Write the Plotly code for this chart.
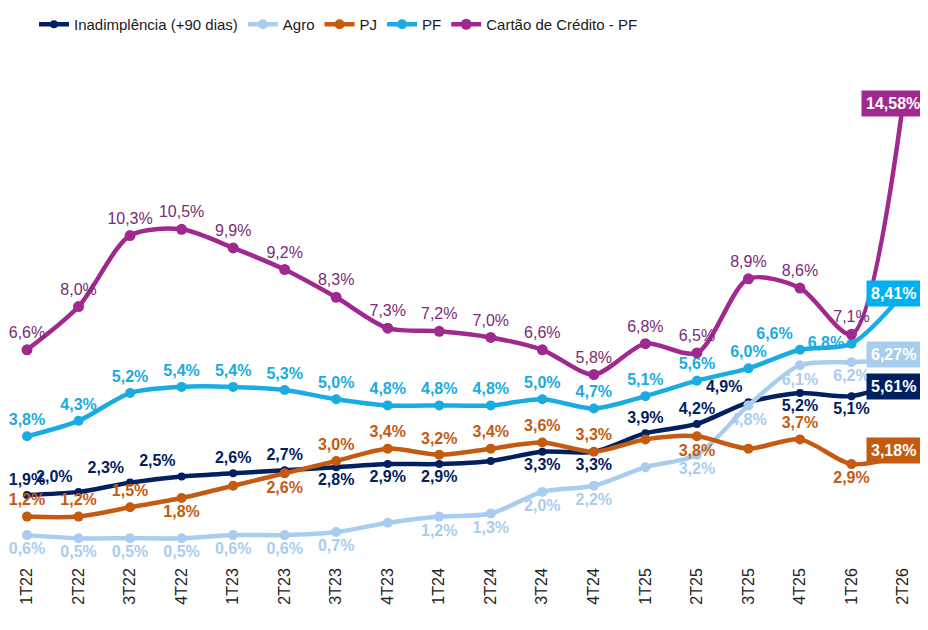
import plotly.graph_objects as go

trimestres = ["1T22", "2T22", "3T22", "4T22", "1T23", "2T23", "3T23", "4T23", "1T24",
              "2T24", "3T24", "4T24", "1T25", "2T25", "3T25", "4T25", "1T26", "2T26"]

inadimplencia = [1.9, 2.0, 2.3, 2.5, 2.6, 2.7, 2.8, 2.9, 2.9, 3.0, 3.3, 3.3, 3.9, 4.2, 4.9, 5.2, 5.1, 5.61]
agro = [0.6, 0.5, 0.5, 0.5, 0.6, 0.6, 0.7, 1.0, 1.2, 1.3, 2.0, 2.2, 2.8, 3.2, 4.8, 6.1, 6.2, 6.27]
pj = [1.2, 1.2, 1.5, 1.8, 2.2, 2.6, 3.0, 3.4, 3.2, 3.4, 3.6, 3.3, 3.7, 3.8, 3.4, 3.7, 2.9, 3.18]
pf = [3.8, 4.3, 5.2, 5.4, 5.4, 5.3, 5.0, 4.8, 4.8, 4.8, 5.0, 4.7, 5.1, 5.6, 6.0, 6.6, 6.8, 8.41]
cartao = [6.6, 8.0, 10.3, 10.5, 9.9, 9.2, 8.3, 7.3, 7.2, 7.0, 6.6, 5.8, 6.8, 6.5, 8.9, 8.6, 7.1, 14.58]

# pontos sem rótulo no gráfico original
sem_rotulo = {
    "Inadimplência (+90 dias)": [9],
    "Agro": [7, 12],
    "PJ": [4, 12, 14],
    "PF": [],
    "Cartão de Crédito - PF": [],
}

T, B, TL, ML = "top center", "bottom center", "top left", "middle left"
posicoes = {
    "Inadimplência (+90 dias)": [T, TL, TL, TL, T, T, B, B, B, T, B, B, T, T, TL, B, B, T],
    "Agro": [B] * 18,
    "PJ": [T, T, T, B, T, B, T, T, T, T, T, T, T, B, T, T, B, T],
    "PF": [T] * 15 + [TL, ML, T],
    "Cartão de Crédito - PF": [T] * 18,
}

series = [
    ("Inadimplência (+90 dias)", inadimplencia, "#002060", True, 8, -6),
    ("Agro", agro, "#A9CDEF", True, 10, 6),
    ("PJ", pj, "#C55A11", True, 10, 5),
    ("PF", pf, "#1AABE0", True, 10, 0),
    ("Cartão de Crédito - PF", cartao, "#A0298F", False, 11, 0),
]

box_cores = {"PF": "#00B0F0"}


def fmt(v, casas=1):
    return f"{v:.{casas}f}".replace(".", ",") + "%"


fig = go.Figure()
for nome, vals, cor, negrito, msize, yshift in series:
    textos = [fmt(v) for v in vals]
    textos[-1] = ""
    for i in sem_rotulo[nome]:
        textos[i] = ""
    cor_txt = "#7B2C72" if nome.startswith("Cartão") else cor
    fig.add_trace(go.Scatter(
        name=nome,
        x=trimestres, y=vals,
        mode="lines+markers+text",
        line=dict(color=cor, width=4.5, shape="spline", smoothing=0.8),
        marker=dict(color=cor, size=msize),
        text=textos,
        textposition=posicoes[nome],
        textfont=dict(color=cor_txt, size=16,
                      family="Liberation Sans", weight="bold" if negrito else "normal"),
        cliponaxis=False,
    ))
    # valor do último trimestre em caixa colorida
    fig.add_annotation(
        x=trimestres[-1], y=vals[-1],
        text="<b>" + fmt(vals[-1], 2) + "</b>",
        showarrow=False,
        xanchor="center", xshift=-10, yshift=yshift,
        bgcolor=box_cores.get(nome, cor),
        borderpad=4,
        font=dict(color="white", size=16, family="Liberation Sans"),
    )

fig.update_layout(
    width=928, height=630,
    margin=dict(l=0, r=0, t=60, b=74),
    paper_bgcolor="white",
    plot_bgcolor="white",
    showlegend=True,
    legend=dict(
        orientation="h",
        x=0.028, xanchor="left",
        y=1.093, yanchor="middle",
        font=dict(size=15, color="#1a1a1a", family="Liberation Sans"),
        itemwidth=30,
        traceorder="normal",
    ),
    xaxis=dict(
        type="category",
        range=[-0.369, 17.64],
        tickangle=-90,
        tickfont=dict(size=16, color="#222222", family="Liberation Sans"),
        showgrid=False, zeroline=False, showline=False, ticks="",
    ),
    yaxis=dict(
        range=[-0.335, 15.66],
        visible=False,
        showgrid=False,
        zeroline=False,
    ),
)

fig.write_html("out.html")
